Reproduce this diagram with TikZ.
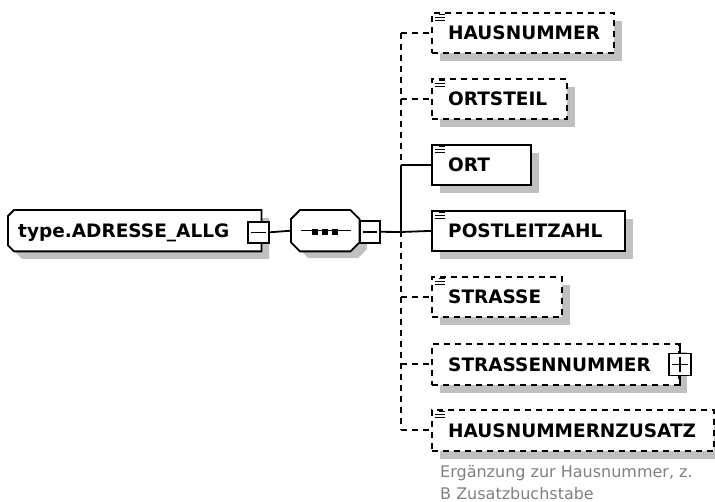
\documentclass[tikz,border=0pt]{standalone}
\usepackage{fontspec}
\setmainfont{DejaVu Sans}
\usetikzlibrary{shadows}
\definecolor{shadowgray}{HTML}{C0C0C0}
\definecolor{descgray}{HTML}{808080}
\begin{document}
\begin{tikzpicture}[x=1pt,y=-1pt,
  elem/.style={draw=black, line width=1.8pt, fill=white, inner sep=0pt, anchor=north west,
     minimum height=40pt,
     general shadow={fill=shadowgray, shadow xshift=8pt, shadow yshift=-8pt}},
  optelem/.style={elem, dash pattern=on 6pt off 5pt},
  frame/.style={inner sep=0pt, anchor=north west},
  etext/.style={font=\bfseries\fontsize{18.5}{20}\selectfont, inner sep=0pt, anchor=west,
     text height=13.5pt, text depth=0pt},
  conn/.style={line width=1.8pt},
  dconn/.style={line width=1.8pt, dash pattern=on 6pt off 5pt},
  togglebox/.style={draw=black, line width=1.6pt, fill=white, inner sep=0pt, anchor=north west},
  icon/.style={line width=1.3pt},
]
\useasboundingbox (0,0) rectangle (715,502);

% ---- root complex type
\node[frame, minimum width=253pt, minimum height=41pt] (root) at (8,210) {};
\begin{scope}[shift={(8,8)}]
  \fill[shadowgray] (14,210) -- (261,210) -- (261,251) -- (14,251) -- (8,245) -- (8,216) -- cycle;
\end{scope}
\draw[line width=1.8pt, fill=white] ([xshift=6pt]root.north west) -- (root.north east) -- (root.south east)
   -- ([xshift=6pt]root.south west) -- ([yshift=6pt]root.south west) -- ([yshift=-6pt]root.north west) -- cycle;
\node[etext] (roottext) at (18,231) {type.ADRESSE\_ALLG};
\node[togglebox, minimum width=21pt, minimum height=21pt] (rootminus) at (247,221) {};
\draw[line width=1.5pt] ([xshift=4pt]rootminus.west) -- ([xshift=-4pt]rootminus.east);

% ---- sequence compositor
\node[frame, minimum width=68pt, minimum height=41pt] (seq) at (291,210) {};
\begin{scope}[shift={(8,7)}]
  \fill[shadowgray] (300,210) -- (350,210) -- (359,219) -- (359,242) -- (350,251) -- (300,251) -- (291,242) -- (291,219) -- cycle;
\end{scope}
\draw[line width=1.8pt, fill=white] ([xshift=9pt]seq.north west) -- ([xshift=-9pt]seq.north east)
   -- ([yshift=-9pt]seq.north east) -- ([yshift=9pt]seq.south east) -- ([xshift=-9pt]seq.south east)
   -- ([xshift=9pt]seq.south west) -- ([yshift=9pt]seq.south west) -- ([yshift=-9pt]seq.north west) -- cycle;
\draw[line width=1.6pt] ([xshift=10pt]seq.west) -- ([xshift=-8pt]seq.east);
\foreach \cx in {315,325,335} \fill (\cx-3,229) rectangle (\cx+3,235);
\node[togglebox, minimum width=20pt, minimum height=22pt] (seqminus) at (359,220) {};
\draw[line width=1.5pt] ([xshift=4pt]seqminus.west) -- ([xshift=-4pt]seqminus.east);

\draw[conn] (rootminus.east) -- (seq.west);
\coordinate (bus) at (401,232);
\draw[conn] (seqminus.east) -- (bus);

% ---- children
\node[optelem, minimum width=182pt] (haus) at (431,12) {};
\node[optelem, minimum width=135pt] (ortsteil) at (431,78) {};
\node[elem, minimum width=99pt] (ort) at (431,144) {};
\node[elem, minimum width=193pt] (plz) at (431,210) {};
\node[optelem, minimum width=130pt] (strasse) at (431,276) {};
\node[optelem, minimum width=247pt, minimum height=41pt] (snr) at (431,343) {};
\node[optelem, minimum width=282pt, minimum height=41pt] (hnz) at (431,409) {};

\foreach \n/\t in {haus/HAUSNUMMER, ortsteil/ORTSTEIL, ort/ORT, plz/POSTLEITZAHL,
                    strasse/STRASSE, snr/STRASSENNUMMER, hnz/HAUSNUMMERNZUSATZ}
  \node[etext] (\n-text) at ([xshift=17pt]\n.west) {\t};

% element icons
\foreach \n in {haus, ortsteil, ort, plz, strasse, hnz} {
  \draw[icon] ([xshift=8pt,yshift=-2.5pt]\n.north west) -- ++(6,0);
  \draw[icon] ([xshift=4pt,yshift=-5.5pt]\n.north west) -- ++(10,0);
  \draw[icon] ([xshift=4pt,yshift=-8.5pt]\n.north west) -- ++(10,0);
}

% plus toggle on STRASSENNUMMER
\draw[line width=1.8pt] (snr.north east) -- (snr.south east);
\node[togglebox, minimum width=22pt, minimum height=22pt, anchor=center] (snrplus) at (snr.east) {};
\draw[line width=1.5pt] ([xshift=4pt]snrplus.west) -- ([xshift=-4pt]snrplus.east);
\draw[line width=1.5pt] ([yshift=-4pt]snrplus.north) -- ([yshift=4pt]snrplus.south);

% ---- bus and connectors
\draw[dconn] (haus.west -| bus) -- (ort.west -| bus);
\draw[conn] (ort.west -| bus) -- (plz.west -| bus);
\draw[dconn] (plz.west -| bus) -- (hnz.west -| bus);
\foreach \n in {haus, ortsteil, strasse, snr, hnz}
  \draw[dconn] (\n.west -| bus) -- (\n.west);
\draw[conn] (ort.west -| bus) -- (ort.west);
\draw[conn] (bus) -- (plz.west);

% ---- annotation
\node[anchor=base west, inner sep=0pt, align=left, text=descgray,
      font=\fontsize{16}{21}\selectfont] (desc) at (440,499)
  {Ergänzung zur Hausnummer, z.\\B Zusatzbuchstabe};
\end{tikzpicture}
\end{document}
